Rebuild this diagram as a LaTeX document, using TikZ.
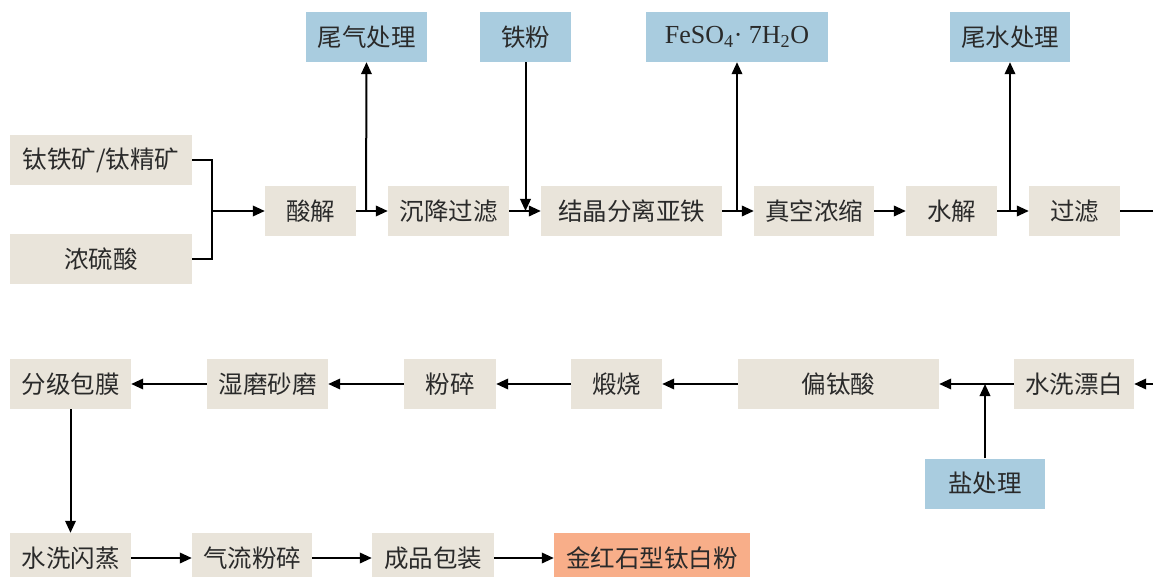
\documentclass[tikz,border=0pt]{standalone}
\usepackage{fontspec}
\setmainfont{Liberation Serif}
\newfontfamily\cjk{Noto Sans CJK SC}
\usetikzlibrary{arrows.meta}
\definecolor{beige}{HTML}{E9E4DA}
\definecolor{bluebox}{HTML}{A9CCDF}
\definecolor{orangebox}{HTML}{F8AE89}
\definecolor{txt}{HTML}{2A2A2A}
\tikzset{
  box/.style={fill=beige, minimum height=50pt, inner sep=0pt, text=txt,
    font=\cjk\fontsize{24.5pt}{28pt}\selectfont},
  bbox/.style={box, fill=bluebox},
  obox/.style={box, fill=orangebox},
  arr/.style={line width=2pt, -{Triangle[length=12pt,width=10.5pt]}},
  ln/.style={line width=2pt},
}
\begin{document}
\begin{tikzpicture}[x=1pt,y=-1pt]
\useasboundingbox[fill=white] (0,0) rectangle (1153,577);
\clip (0,0) rectangle (1153,577);
% top row
\node[box, minimum width=182pt] (ore) at (101,160) {钛铁矿/钛精矿};
\node[box, minimum width=182pt] (acid) at (101,259) {浓硫酸};
\node[box, minimum width=91pt] (sj) at (310.5,211) {酸解};
\node[bbox, minimum width=121pt] (wq) at (366.5,37) {尾气处理};
\node[box, minimum width=121pt] (cj) at (448.5,211) {沉降过滤};
\node[bbox, minimum width=91pt] (tf) at (525.5,37) {铁粉};
\node[box, minimum width=181pt] (jj) at (631.5,211) {结晶分离亚铁};
\node[bbox, minimum width=182pt, font=\fontsize{26pt}{30pt}\selectfont] (fe) at (737,37) {FeSO\textsubscript{4}· 7H\textsubscript{2}O};
\node[box, minimum width=120pt] (zk) at (814,211) {真空浓缩};
\node[box, minimum width=91pt] (sj2) at (951.5,211) {水解};
\node[bbox, minimum width=120pt] (ws) at (1010,37) {尾水处理};
\node[box, minimum width=91pt] (gl) at (1074.5,211) {过滤};
% middle row
\node[box, minimum width=121pt] (fj) at (70.5,384) {分级包膜};
\node[box, minimum width=121pt] (sm) at (267.5,384) {湿磨砂磨};
\node[box, minimum width=92pt] (fs) at (450,384) {粉碎};
\node[box, minimum width=91pt] (ds) at (616.5,384) {煅烧};
\node[box, minimum width=201pt] (pt) at (838.5,384) {偏钛酸};
\node[box, minimum width=120pt] (sx) at (1074,384) {水洗漂白};
\node[bbox, minimum width=120pt] (yc) at (985,483.5) {盐处理};
% bottom row
\node[box, minimum width=121pt] (sxs) at (70.5,558) {水洗闪蒸};
\node[box, minimum width=120pt] (ql) at (252,558) {气流粉碎};
\node[box, minimum width=122pt] (cp) at (433,558) {成品包装};
\node[obox, minimum width=196pt] (jh) at (652,558) {金红石型钛白粉};
% helper coordinates
\coordinate (m1) at (212,211);
\coordinate (b1) at (366,211);
\coordinate (b2) at (525.5,211);
\coordinate (b3) at (737,211);
\coordinate (b4) at (1010,211);
\coordinate (redge) at (1153,211);
\coordinate (redge2) at (1153,384);
\coordinate (b5) at (985,384);
% connectors
\draw[ln] (ore.east) -- (212,160) -- (212,259) -- (acid.east);
\draw[arr] (m1) -- (sj.west);
\draw[arr] (sj.east) -- (cj.west);
\draw[arr] (b1) -- (wq.south);
\draw[arr] (cj.east) -- (jj.west);
\draw[arr] (tf.south) -- (b2);
\draw[arr] (jj.east) -- (zk.west);
\draw[arr] (b3) -- (fe.south);
\draw[arr] (zk.east) -- (sj2.west);
\draw[arr] (sj2.east) -- (gl.west);
\draw[arr] (b4) -- (ws.south);
\draw[ln] (gl.east) -- (redge);
\draw[arr] (redge2) -- (sx.east);
\draw[arr] (sx.west) -- (pt.east);
\draw[arr] (yc.north) -- (b5);
\draw[arr] (pt.west) -- (ds.east);
\draw[arr] (ds.west) -- (fs.east);
\draw[arr] (fs.west) -- (sm.east);
\draw[arr] (sm.west) -- (fj.east);
\draw[arr] (fj.south) -- (sxs.north);
\draw[arr] (sxs.east) -- (ql.west);
\draw[arr] (ql.east) -- (cp.west);
\draw[arr] (cp.east) -- (jh.west);
\end{tikzpicture}
\end{document}
